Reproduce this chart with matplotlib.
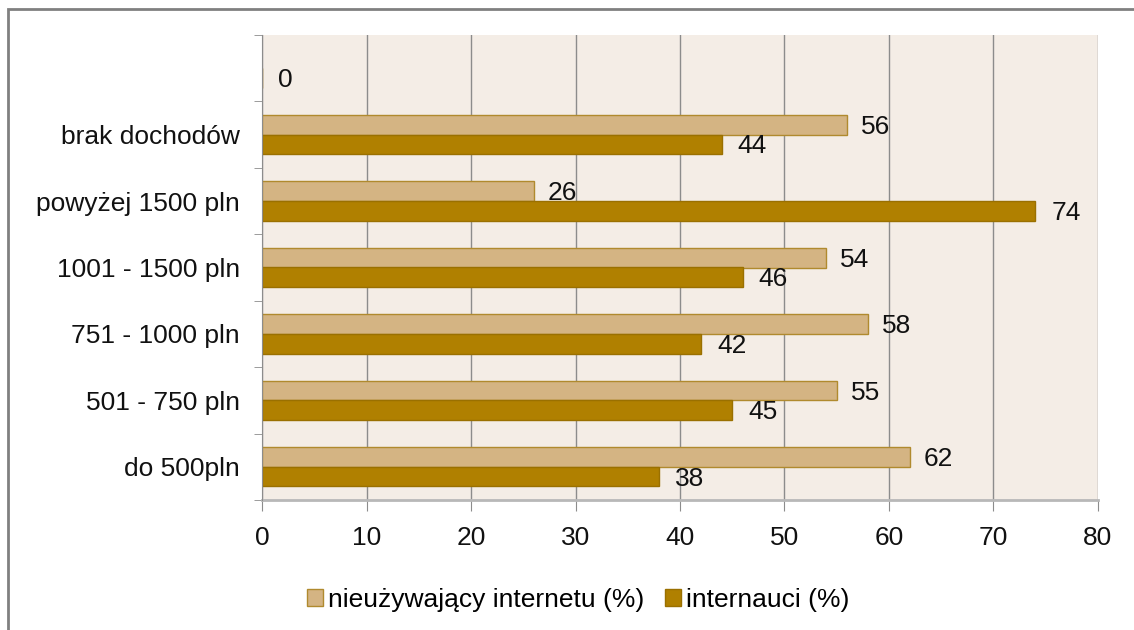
import matplotlib.pyplot as plt
import matplotlib.patches as mpatches
import numpy as np

# data
categories = ["do 500pln", "501 - 750 pln", "751 - 1000 pln", "1001 - 1500 pln",
              "powyżej 1500 pln", "brak dochodów", ""]
non_users = [62, 55, 58, 54, 26, 56, None]
internet_users = [38, 45, 42, 46, 74, 44, 0]
series_names = ["nieużywający internetu (%)", "internauci (%)"]

LIGHT = "#D4B483"
LIGHT_EDGE = "#B08A2E"
DARK = "#B08000"
DARK_EDGE = "#9A7000"
BG = "#F4EDE6"
GRID = "#8C8C8C"
FS = 19

plt.rcParams['font.family'] = ['Liberation Sans', 'DejaVu Sans']

fig = plt.figure(figsize=(11.34, 6.3), dpi=100)
ax = fig.add_axes([262 / 1134, 130 / 630, 836 / 1134, 465 / 630])
ax.set_facecolor(BG)

y = np.arange(len(categories))
h = 0.295

light_vals = [np.nan if v is None else v for v in non_users]
ax.barh(y + h / 2, light_vals, height=h, color=LIGHT, edgecolor=LIGHT_EDGE, linewidth=1, zorder=3)
ax.barh(y - h / 2, internet_users, height=h, color=DARK, edgecolor=DARK_EDGE, linewidth=1, zorder=3)

# value labels
for yi, v in zip(y, non_users):
    if v is not None:
        ax.annotate(str(v), (v, yi + h / 2), xytext=(14, -2), textcoords="offset pixels",
                    va="center", ha="left", fontsize=FS, color="#111111")
for yi, v in zip(y, internet_users):
    ax.annotate(str(v), (v, yi - h / 2), xytext=(16, -2), textcoords="offset pixels",
                va="center", ha="left", fontsize=FS, color="#111111")

ax.set_xlim(0, 80)
ax.set_ylim(-0.5, len(categories) - 0.5)
ax.set_xticks(np.arange(0, 81, 10))
ax.tick_params(axis="x", labelsize=FS, length=8, color=GRID, pad=11, labelcolor="#111111")

ax.set_yticks(y)
ax.set_yticklabels(categories)
ax.tick_params(axis="y", which="major", length=0, labelsize=FS, pad=16, labelcolor="#111111")
ax.set_yticks(np.arange(-0.5, len(categories), 1), minor=True)
ax.tick_params(axis="y", which="minor", length=6, color=GRID)

ax.grid(axis="x", color=GRID, linewidth=1, zorder=0)
ax.set_axisbelow(True)
for s in ["top", "right"]:
    ax.spines[s].set_visible(False)
ax.spines["left"].set_color(GRID)
ax.spines["left"].set_zorder(4)
ax.spines["bottom"].set_color("#B8B8B8")
ax.spines["bottom"].set_linewidth(2)

handles = [mpatches.Patch(facecolor=LIGHT, edgecolor=LIGHT_EDGE, label=series_names[0]),
           mpatches.Patch(facecolor=DARK, edgecolor=DARK_EDGE, label=series_names[1])]
fig.legend(handles=handles, loc="center", bbox_to_anchor=(0.51, 0.048), ncol=2,
           frameon=False, fontsize=FS, handlelength=0.6, handleheight=0.6,
           handletextpad=0.2, columnspacing=0.8)

# outer border
border = mpatches.Rectangle((8 / 1134, -0.1), 1.2, (630 - 9) / 630 + 0.1,
                            transform=fig.transFigure, fill=False,
                            edgecolor="#808080", linewidth=2)
fig.patches.append(border)

fig.savefig("out.png", dpi=100)
